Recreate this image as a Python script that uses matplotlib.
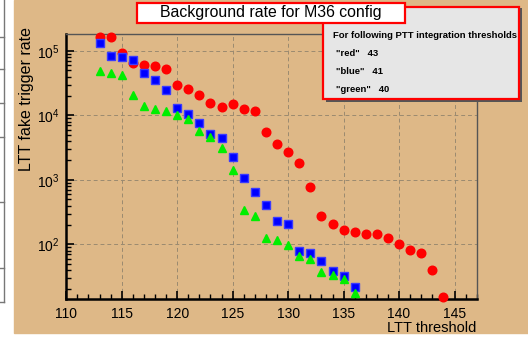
import matplotlib
matplotlib.use("Agg")
import matplotlib.pyplot as plt
from matplotlib.patches import Rectangle
from matplotlib.lines import Line2D
from matplotlib.ticker import MultipleLocator, LogLocator

plt.rcParams['font.family'] = ['Liberation Sans', 'DejaVu Sans']
plt.rcParams['mathtext.default'] = 'regular'

# data
thr_red = list(range(113, 145))
rate_red = [1.67e5, 1.67e5, 9.2e4, 6.6e4, 6.1e4, 5.9e4, 5.2e4, 2.96e4, 2.54e4, 2.1e4,
            1.56e4, 1.34e4, 1.49e4, 1.27e4, 1.17e4, 5.58e3, 3.64e3, 2.70e3, 1.80e3, 782,
            271, 208, 168, 155, 146, 144, 124, 102, 81, 73, 40, 15]
thr_blue = list(range(113, 137))
rate_blue = [1.32e5, 8.4e4, 8.0e4, 7.2e4, 4.6e4, 3.6e4, 2.45e4, 1.29e4, 1.06e4, 7.7e3,
             5.1e3, 4.5e3, 2.26e3, 1.08e3, 653, 410, 227, 204, 78, 74, 55, 39, 32, 22]
thr_green = list(range(113, 137))
rate_green = [4.9e4, 4.5e4, 4.3e4, 2.1e4, 1.38e4, 1.26e4, 1.18e4, 1.0e4, 8.8e3, 5.7e3,
              4.6e3, 3.15e3, 1.42e3, 340, 271, 124, 116, 98, 67, 59, 37, 33, 28.5, 17.5]
legend_lines = ['"red"   43', '"blue"   41', '"green"   40']

W, H = 528, 338
tan = '#deb887'
fig = plt.figure(figsize=(W / 100, H / 100), dpi=100)
fig.patch.set_facecolor('white')

def fx(px):
    return px / W

def fy(py):
    return 1 - py / H

# tan canvas and the bit of neighbouring table at the left
fig.patches.append(Rectangle((fx(14), fy(333)), fx(W - 14), 333 / H,
                             transform=fig.transFigure, color=tan, zorder=-5))
fig.lines.append(Line2D([fx(4), fx(4)], [fy(0), fy(302)], transform=fig.transFigure,
                        color='#777777', lw=1))
for py in [36.5, 69, 103, 137, 201.5, 268, 302]:
    fig.lines.append(Line2D([0, fx(4)], [fy(py), fy(py)], transform=fig.transFigure,
                            color='#777777', lw=1))

ax = fig.add_axes([fx(66.3), fy(299.3), fx(476.7 - 66.3), (299.3 - 34) / H])
ax.set_facecolor(tan)

ax.plot(thr_red, rate_red, 'o', color='#ff0000', ms=6.2, mec='#ff0000', zorder=3,
        clip_on=False)
ax.plot(thr_blue, rate_blue, 's', color='#0000ff', ms=5.5, mec='#3a3aff', zorder=4,
        clip_on=False)
ax.plot(thr_green, rate_green, '^', color='#00ee00', ms=5.6, mec='#00ee00', zorder=5,
        clip_on=False)

ax.set_yscale('log')
ax.set_xlim(110, 147)
ax.set_ylim(14, 1.84e5)
ax.xaxis.set_major_locator(MultipleLocator(5))
ax.xaxis.set_minor_locator(MultipleLocator(1))
ax.yaxis.set_major_locator(LogLocator(base=10))
ax.yaxis.set_minor_locator(LogLocator(base=10, subs=range(2, 10)))

ax.grid(True, which='major', ls=(0, (4, 3)), color='#9a8a70', lw=0.7)
ax.tick_params(which='both', direction='in', top=False, right=False, colors='black',
               labelsize=10)
ax.tick_params(which='major', length=6, width=1.2)
ax.tick_params(which='minor', length=3.5, width=1)
ax.tick_params(axis='x', pad=5.5)
ax.tick_params(axis='y', pad=5)

for s in ['left', 'bottom']:
    ax.spines[s].set_linewidth(1.8)
    ax.spines[s].set_color('black')
for s in ['top', 'right']:
    ax.spines[s].set_linewidth(1)
    ax.spines[s].set_color('#555555')

fig.text(fx(476.7), fy(331.5), 'LTT threshold', ha='right', va='baseline', fontsize=10.5)
fig.text(fx(27), fy(27), 'LTT fake trigger rate', rotation=90, ha='center', va='top',
         fontsize=11.5)

# legend box with shadow
fig.patches.append(Rectangle((fx(326), fy(102)), fx(196), 94 / H, transform=fig.transFigure,
                             facecolor='#555555', edgecolor='none', zorder=5))
fig.patches.append(Rectangle((fx(323), fy(99)), fx(196), 92 / H, transform=fig.transFigure,
                             facecolor='#e6e6e6', edgecolor='#ff0000', lw=1.6, zorder=6))
fig.text(fx(333), fy(35), 'For following PTT integration thresholds', ha='left',
         va='center', fontsize=6.8, fontweight='bold', zorder=7)
for py, txt in zip([54, 72, 90], legend_lines):
    fig.text(fx(335.5), fy(py), txt, ha='left', va='center', fontsize=6.8,
             fontweight='bold', zorder=7)

# title box
fig.patches.append(Rectangle((fx(137), fy(23)), fx(268), 20 / H, transform=fig.transFigure,
                             facecolor='white', edgecolor='#ff0000', lw=1.6, zorder=8))
fig.text(fx(271), fy(13), 'Background rate for M36 config', ha='center', va='center',
         fontsize=11.4, zorder=9)

fig.savefig('out.png', dpi=100)
